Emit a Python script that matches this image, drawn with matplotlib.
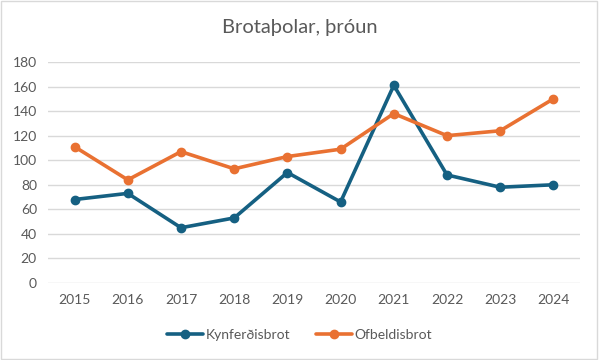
import matplotlib
matplotlib.use("Agg")
import matplotlib.pyplot as plt

years = ["2015", "2016", "2017", "2018", "2019", "2020", "2021", "2022", "2023", "2024"]
kynferdisbrot = [68, 73, 45, 53, 90, 66, 161, 88, 78, 80]
ofbeldisbrot = [111, 84, 107, 93, 103, 109, 138, 120, 124, 150]

BLUE = "#156082"
ORANGE = "#E97132"
GREY = "#595959"

plt.rcParams['font.family'] = ['Lato', 'DejaVu Sans']

fig = plt.figure(figsize=(5.99, 3.6), dpi=100)
ax = fig.add_axes([48 / 599, 1 - 283 / 360, 532 / 599, 221 / 360])

x = list(range(len(years)))
ax.plot(x, kynferdisbrot, color=BLUE, lw=2.6, marker="o", ms=6, label="Kynferðisbrot",
        solid_capstyle="round", solid_joinstyle="round", zorder=3)
ax.plot(x, ofbeldisbrot, color=ORANGE, lw=2.6, marker="o", ms=6, label="Ofbeldisbrot",
        solid_capstyle="round", solid_joinstyle="round", zorder=3)

ax.set_xlim(-0.5, len(years) - 0.5)
ax.set_ylim(0, 180)
ax.set_yticks(range(0, 181, 20))
ax.set_xticks(x)
ax.set_xticklabels(years)
ax.grid(axis="y", color="#d9d9d9", lw=1)
ax.set_axisbelow(True)
for s in ax.spines.values():
    s.set_visible(False)
ax.tick_params(length=0, colors=GREY, labelsize=10, pad=8)

fig.text(0.5, 1 - 28 / 360, "Brotaþolar, þróun", ha="center", va="center",
         fontsize=14.5, color=GREY)

fig.legend(loc="center", bbox_to_anchor=(0.5, 1 - 335 / 360), ncol=2, frameon=False,
           fontsize=10, labelcolor=GREY, handlelength=2.6, columnspacing=1.8,
           handletextpad=0.2)

# light border round the chart area
fig.patches.append(plt.Rectangle((0.002, 0.003), 0.995, 0.994, transform=fig.transFigure,
                                 fill=False, edgecolor="#d9d9d9", lw=1))

fig.savefig("out.png", dpi=100)
